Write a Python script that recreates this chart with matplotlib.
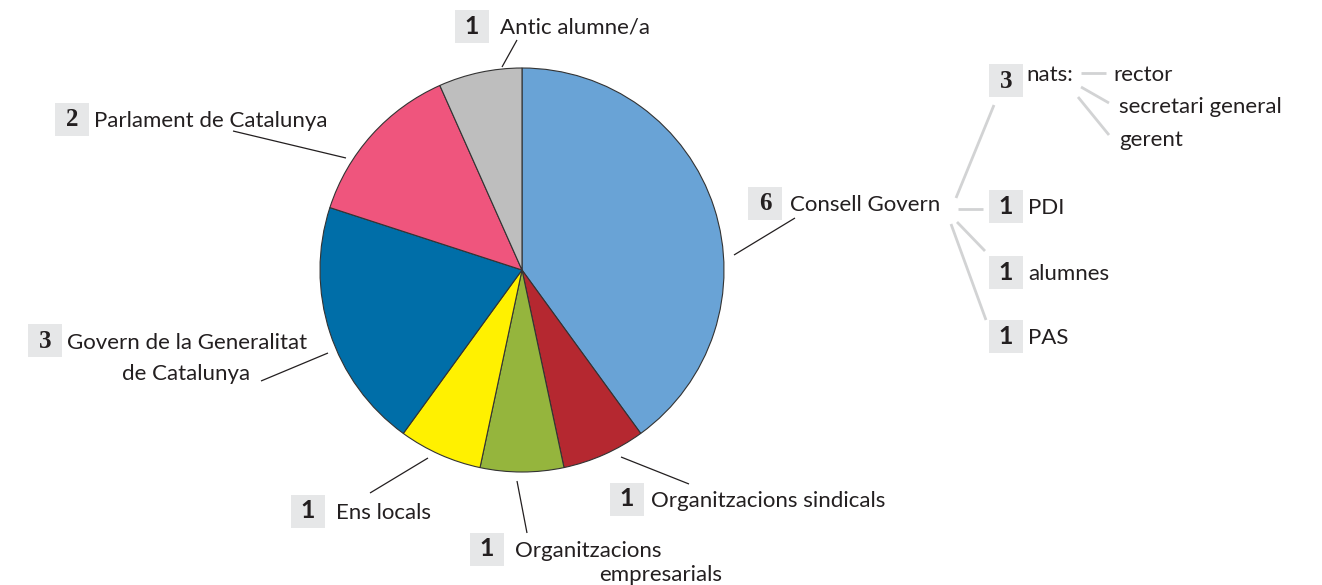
import matplotlib.pyplot as plt
from matplotlib.patches import Rectangle

# Composició del Consell Social
categories = ['Consell Govern', 'Organitzacions sindicals', 'Organitzacions empresarials',
              'Ens locals', 'Govern de la Generalitat de Catalunya',
              'Parlament de Catalunya', 'Antic alumne/a']
seats = [6, 1, 1, 1, 3, 2, 1]
colors = ['#69a3d6', '#b52830', '#95b53d', '#fff100', '#006ea8', '#ef557d', '#bebebe']

# Detall del Consell de Govern
govern_groups = ['nats:', 'PDI', 'alumnes', 'PAS']
govern_counts = [3, 1, 1, 1]
nats_members = ['rector', 'secretari general', 'gerent']

W, H = 1322, 585
fig = plt.figure(figsize=(W / 100, H / 100), dpi=100)
ax = fig.add_axes([0, 0, 1, 1])

ax.pie(seats, colors=colors, startangle=-90, counterclock=True,
       center=(522, 270), radius=202,
       wedgeprops=dict(edgecolor='#333333', linewidth=0.8))

ax.set_xlim(0, W)
ax.set_ylim(H, 0)
ax.set_aspect('equal')
ax.axis('off')

TXT = '#231f20'
BOX = '#e6e7e8'
FONT = 'Lato'
FS = 16


def label(bx, by, num, lines, tx=None, serif=False):
    # caixa grisa amb el número i el text al costat
    ax.add_patch(Rectangle((bx, by), 34, 33, facecolor=BOX, edgecolor='none'))
    fam = 'Liberation Serif' if serif else FONT
    ax.text(bx + 17, by + 16.5 + 7, str(num), ha='center', va='baseline',
            fontsize=18, fontweight='bold', family=fam, color=TXT)
    if lines is not None:
        if tx is None:
            tx = bx + 45
        ax.text(tx, by + 16.5 + 7.5, lines, ha='left', va='baseline',
                fontsize=FS, family=FONT, color=TXT)


def leader(x1, y1, x2, y2, c='#231f20', lw=0.9):
    ax.plot([x1, x2], [y1, y2], color=c, linewidth=lw, solid_capstyle='butt')


# etiquetes del pastís
label(455, 10, seats[6], categories[6])
leader(517, 40, 502, 67)

label(55, 103, seats[5], categories[5], tx=94, serif=True)
leader(233, 131, 346, 158)

label(28, 324, seats[4], None, serif=True)
ax.text(67, 349, 'Govern de la Generalitat', ha='left', va='baseline',
        fontsize=FS, family=FONT, color=TXT)
ax.text(250, 380, 'de Catalunya', ha='right', va='baseline',
        fontsize=FS, family=FONT, color=TXT)
leader(261, 381, 328, 353)

label(291, 495, seats[3], categories[3])
leader(370, 493, 428, 458)

label(470, 533, seats[2], 'Organitzacions', tx=515)
ax.text(599, 581, 'empresarials', ha='left', va='baseline',
        fontsize=FS, family=FONT, color=TXT)
leader(527, 533, 517, 481)

label(610, 483, seats[1], categories[1], tx=651)
leader(689, 484, 621, 457)

label(748, 187, seats[0], categories[0], tx=790, serif=True)
leader(795, 218, 734, 255)

# arbre del Consell de Govern
GR = '#d2d3d4'
leader(956, 198, 994, 105, c=GR, lw=2)
leader(958, 209, 983, 209, c=GR, lw=2)
leader(957, 222, 985, 251, c=GR, lw=2)
leader(951, 224, 986, 320, c=GR, lw=2)

label(989, 64, govern_counts[0], None, serif=True)
ax.text(1026, 81, govern_groups[0], ha='left', va='baseline',
        fontsize=FS, family=FONT, color=TXT)
label(989, 190, govern_counts[1], govern_groups[1], tx=1028)
label(989, 256, govern_counts[2], govern_groups[2], tx=1028)
label(989, 320, govern_counts[3], govern_groups[3], tx=1028)

leader(1081, 73, 1106, 73, c=GR, lw=2)
leader(1081, 87, 1109, 103, c=GR, lw=2)
leader(1078, 97, 1109, 135, c=GR, lw=2)
ax.text(1113, 81, nats_members[0], ha='left', va='baseline',
        fontsize=FS, family=FONT, color=TXT)
ax.text(1119, 113, nats_members[1], ha='left', va='baseline',
        fontsize=FS, family=FONT, color=TXT)
ax.text(1119, 146, nats_members[2], ha='left', va='baseline',
        fontsize=FS, family=FONT, color=TXT)

fig.savefig('out.png', dpi=100)
